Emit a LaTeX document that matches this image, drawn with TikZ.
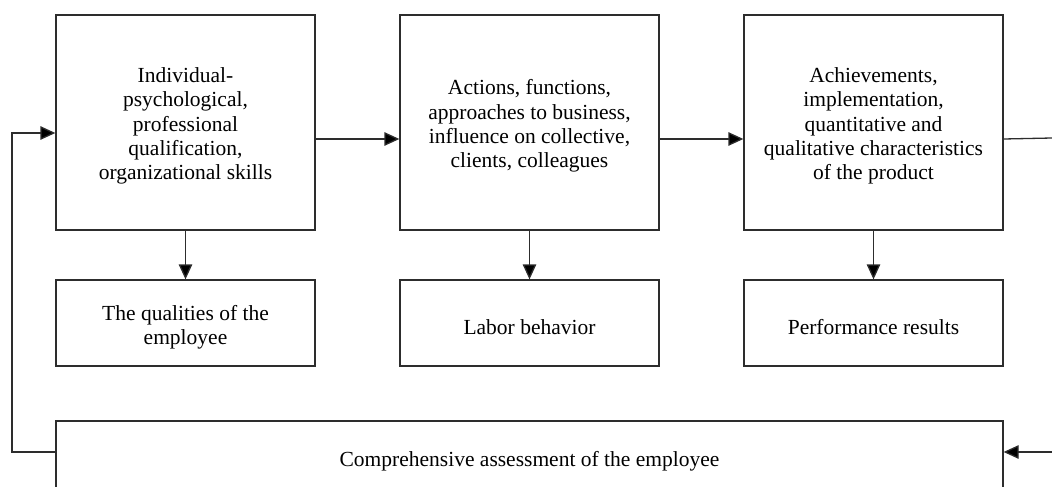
\documentclass[tikz,border=0pt]{standalone}
\usepackage{fontspec}
\setmainfont{Liberation Serif}
\usetikzlibrary{arrows.meta}
\definecolor{ln}{RGB}{45,45,45}
\begin{document}
\begin{tikzpicture}[x=1pt,y=-1pt,
  box/.style={draw=ln,line width=1.3pt,minimum width=259pt,inner sep=0pt},
  topbox/.style={box,minimum height=215pt},
  midbox/.style={box,minimum height=86pt},
  txt/.style={align=center,inner sep=0pt,font=\fontsize{21.5}{24.3}\selectfont},
  conn/.style={draw=ln,line width=1.3pt},
  arr/.style={conn,-{Triangle[length=15pt,width=13.5pt,fill=black]}}]
\useasboundingbox (0,0) rectangle (1052,487);
\clip (0,0) rectangle (1052,487);
\node[topbox] (b1) at (185.5,122.5) {};
\node[topbox] (b2) at (529.5,122.5) {};
\node[topbox] (b3) at (873.5,122.5) {};
\node[midbox] (q1) at (185.5,323) {};
\node[midbox] (q2) at (529.5,323) {};
\node[midbox] (q3) at (873.5,323) {};
\node[box,minimum width=947pt,minimum height=72pt] (as) at (529.5,457) {};
\node[txt] (t1) at ([yshift=-3.5pt]b1.center) {Individual-\\psychological,\\professional\\qualification,\\organizational skills};
\node[txt] (t2) at ([yshift=-3.5pt]b2.center) {Actions, functions,\\approaches to business,\\influence on collective,\\clients, colleagues};
\node[txt] (t3) at ([yshift=-3.5pt]b3.center) {Achievements,\\implementation,\\quantitative and\\qualitative characteristics\\of the product};
\node[txt] (u1) at ([yshift=-4.5pt]q1.center) {The qualities of the\\employee};
\node[txt] (u2) at ([yshift=-4.5pt]q2.center) {Labor behavior};
\node[txt] (u3) at ([yshift=-4.5pt]q3.center) {Performance results};
\node[txt] (ua) at ([yshift=-4.5pt]as.center) {Comprehensive assessment of the employee};
\coordinate (fbB) at (12,452);
\coordinate (fbT) at (12,133);
\coordinate (rTop) at (1052,138);
\coordinate (rBot) at (1052,452);
\draw[arr] ([yshift=-16.5pt]b1.east) -- ([yshift=-16.5pt]b2.west);
\draw[arr] ([yshift=-16.5pt]b2.east) -- ([yshift=-16.5pt]b3.west);
\draw[conn] ([yshift=-16.5pt]b3.east) -- (rTop);
\draw[arr] (b1.south) -- (q1.north);
\draw[arr] (b2.south) -- (q2.north);
\draw[arr] (b3.south) -- (q3.north);
\draw[arr] (rBot) -- ([yshift=5pt]as.east);
\draw[arr] ([yshift=5pt]as.west) -- (fbB) -- (fbT) -- ([yshift=-10.5pt]b1.west);
\end{tikzpicture}
\end{document}
